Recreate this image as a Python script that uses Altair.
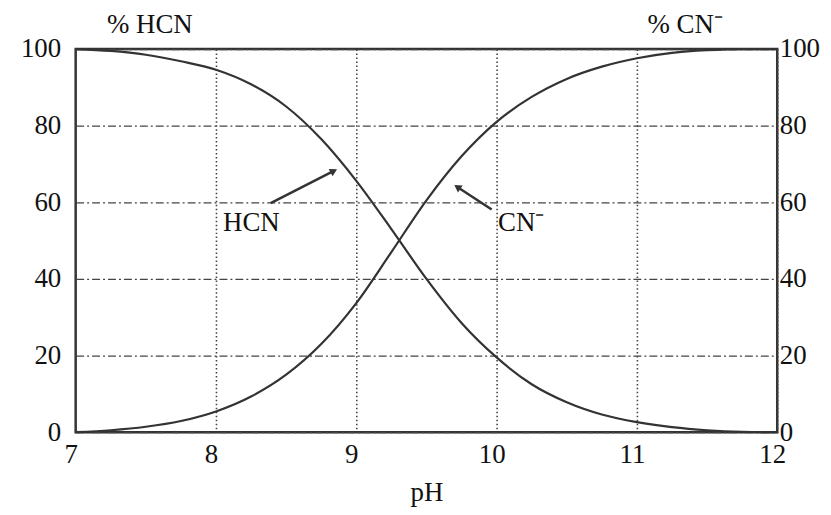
import altair as alt
import pandas as pd

# values
ph = [7.0, 7.25, 7.5, 7.75, 8.0, 8.25, 8.5, 8.75, 9.0, 9.25, 9.5, 9.75,
      10.0, 10.25, 10.5, 10.75, 11.0, 11.25, 11.5, 11.75, 12.0]
hcn = [100, 99.5, 98.5, 96.8, 94.6, 90.8, 85.0, 76.5, 65.6, 53.0, 40.0, 28.5,
       19.5, 12.5, 7.8, 4.6, 2.6, 1.3, 0.5, 0.1, 0.0]
cn = [0.0, 0.5, 1.4, 2.9, 5.4, 9.3, 15.0, 23.0, 33.7, 47.0, 60.5, 72.0,
      81.0, 87.5, 92.2, 95.4, 97.6, 99.0, 99.7, 100, 100]

x_ticks = [7, 8, 9, 10, 11, 12]
y_ticks = [0, 20, 40, 60, 80, 100]

# annotations (arrow tail -> head, label anchor)
arrow_x = [8.39, 9.965]
arrow_y = [59.8, 58.1]
arrow_x2 = [8.84, 9.72]
arrow_y2 = [68.2, 64.0]
arrow_angle = [62, 304]
label_text = ["HCN", "CN⁻"]
label_x = [8.05, 10.01]
label_y = [52.4, 52.4]

FONT = "Liberation Serif"
INK = "#333333"
TXT = "#111111"
FS = 27

df = pd.DataFrame({"pH": ph, "HCN": hcn, "CN": cn})
arrows = pd.DataFrame({"pH": arrow_x, "v": arrow_y, "pH2": arrow_x2,
                       "v2": arrow_y2, "angle": arrow_angle})
labels = pd.DataFrame({"pH": label_x, "v": label_y, "t": label_text})

xscale = alt.Scale(domain=[7, 12], nice=False, zero=False)
yscale = alt.Scale(domain=[0, 100], nice=False)

x_axis = alt.Axis(values=x_ticks, grid=True, gridDash=[1.5, 2.5], gridColor="#444444",
                  gridWidth=1.6, ticks=False, domain=False, labelFont=FONT,
                  labelFontSize=FS, labelColor=TXT, labelPadding=9, labelOffset=-5,
                  title="pH", titleFont=FONT, titleFontSize=FS, titleFontWeight="normal",
                  titleColor=TXT, titleBaseline="middle", titleY=61, labelFlush=False)

left_axis = alt.Axis(values=y_ticks, grid=True, gridDash=[8, 3, 2, 3], gridColor="#444444",
                     gridWidth=1.3, ticks=False, domain=False, labelFont=FONT,
                     labelFontSize=FS, labelColor=TXT, labelPadding=15,
                     labelFlush=False, title="% HCN", titleAngle=0, titleFont=FONT,
                     titleFontSize=FS, titleFontWeight="normal", titleColor=TXT,
                     titleAlign="center", titleBaseline="middle", titleX=74, titleY=-25)

right_axis = alt.Axis(values=y_ticks, orient="right", grid=False, ticks=False, domain=False,
                      labelFont=FONT, labelFontSize=FS, labelColor=TXT,
                      labelPadding=2, labelFlush=False, title="% CN⁻", titleAngle=0,
                      titleFont=FONT, titleFontSize=FS, titleFontWeight="normal",
                      titleColor=TXT, titleAlign="center", titleBaseline="middle",
                      titleX=-93, titleY=-25)

hcn_line = alt.Chart(df).mark_line(color=INK, strokeWidth=2.2, interpolate="monotone").encode(
    x=alt.X("pH:Q", scale=xscale, axis=x_axis),
    y=alt.Y("HCN:Q", scale=yscale, axis=left_axis),
)

cn_line = alt.Chart(df).mark_line(color=INK, strokeWidth=2.2, interpolate="monotone").encode(
    x=alt.X("pH:Q", scale=xscale, axis=None),
    y=alt.Y("CN:Q", scale=yscale, axis=right_axis),
)

arrow_rules = alt.Chart(arrows).mark_rule(color=INK, strokeWidth=2.5).encode(
    x=alt.X("pH:Q", scale=xscale, axis=None),
    y=alt.Y("v:Q", scale=yscale, axis=None),
    x2="pH2:Q",
    y2="v2:Q",
)

arrow_heads = alt.Chart(arrows).mark_point(shape="triangle-up", filled=True, color=INK,
                                           size=70, opacity=1).encode(
    x=alt.X("pH2:Q", scale=xscale, axis=None),
    y=alt.Y("v2:Q", scale=yscale, axis=None),
    angle=alt.Angle("angle:Q", scale=None),
)

label_marks = alt.Chart(labels).mark_text(font=FONT, fontSize=FS, color=TXT,
                                          align="left", baseline="alphabetic").encode(
    x=alt.X("pH:Q", scale=xscale, axis=None),
    y=alt.Y("v:Q", scale=yscale, axis=None),
    text="t:N",
)

chart = alt.layer(hcn_line, cn_line, arrow_rules, arrow_heads, label_marks).resolve_axis(
    x="independent", y="independent"
).properties(
    width=705, height=385,
    autosize=alt.AutoSizeParams(type="none"),
    padding={"left": 68, "top": 40, "right": 46, "bottom": 78},
    background="white",
).configure_view(stroke="#333333", strokeWidth=2.5)

chart.save("out.html", embed_options={"renderer": "svg", "actions": False})
